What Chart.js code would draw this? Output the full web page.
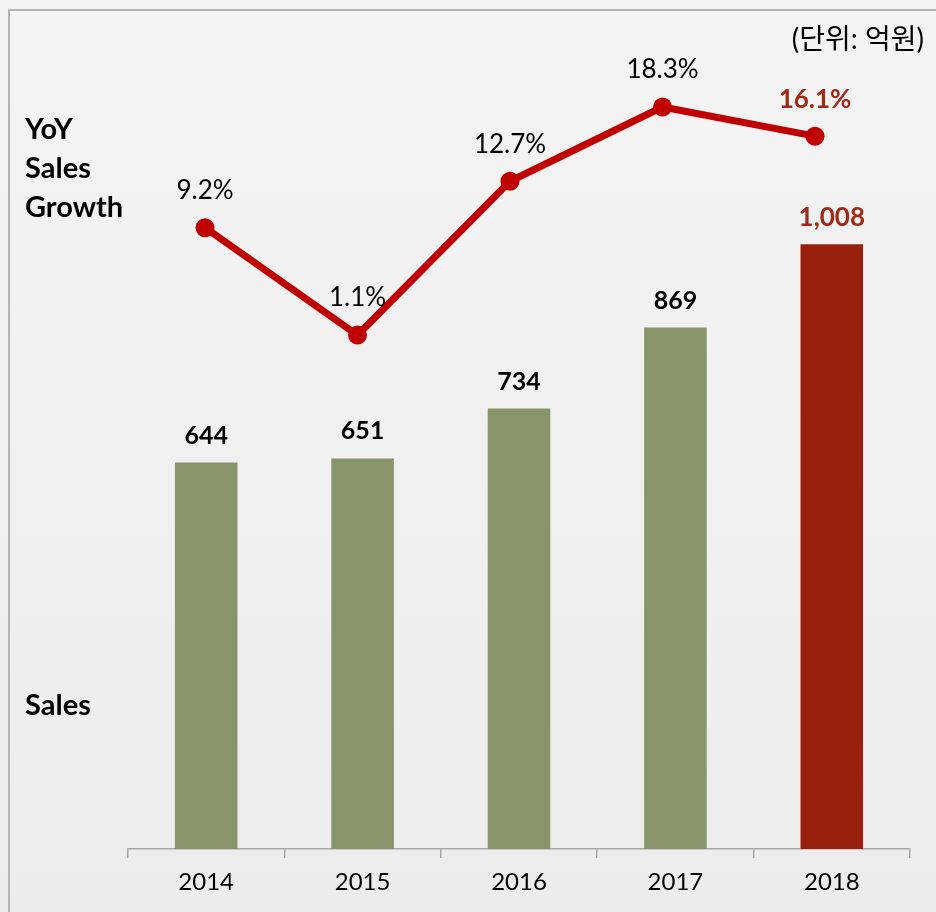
<!DOCTYPE html>
<html>
<head>
<meta charset="utf-8">
<script src="https://cdn.jsdelivr.net/npm/chart.js@4.4.1/dist/chart.umd.min.js"></script>
<style>
  html, body { margin: 0; padding: 0; background: #f2f2f2; }
  #wrap { position: relative; width: 936px; height: 912px; }
</style>
</head>
<body>
<div id="wrap">
  <canvas id="salesChart" width="936" height="912"></canvas>
</div>
<script>
// data
const years = ['2014', '2015', '2016', '2017', '2018'];
const sales = [644, 651, 734, 869, 1008];
const salesLabels = ['644', '651', '734', '869', '1,008'];
const growth = [9.2, 1.1, 12.7, 18.3, 16.1];
const growthLabels = ['9.2%', '1.1%', '12.7%', '18.3%', '16.1%'];

const FONT = "Lato, 'Noto Sans', 'Noto Sans CJK KR', sans-serif";
const olive = '#88946a';
const darkRed = '#98200e';
const lineRed = '#c00000';
const labelRed = '#a02a18';

// background + frame + side captions
const backdrop = {
  id: 'backdrop',
  beforeDraw(chart) {
    const ctx = chart.ctx;
    const w = chart.width, h = chart.height;
    ctx.save();
    const g = ctx.createLinearGradient(0, 0, 0, h);
    g.addColorStop(0, '#f4f4f4');
    g.addColorStop(1, '#ececec');
    ctx.fillStyle = g;
    ctx.fillRect(0, 0, w, h);
    ctx.strokeStyle = '#b4b4b4';
    ctx.lineWidth = 2;
    ctx.beginPath();
    ctx.moveTo(9, h);
    ctx.lineTo(9, 10);
    ctx.lineTo(w, 10);
    ctx.stroke();
    ctx.restore();
  },
  afterDraw(chart) {
    const ctx = chart.ctx;
    ctx.save();
    ctx.fillStyle = '#000';
    ctx.textBaseline = 'middle';
    ctx.textAlign = 'left';
    ctx.font = 'bold 29px ' + FONT;
    ctx.fillText('YoY', 25, 130);
    ctx.fillText('Sales', 25, 169);
    ctx.fillText('Growth', 25, 208);
    ctx.fillText('Sales', 25, 706);
    ctx.textAlign = 'right';
    ctx.font = '28px ' + FONT;
    ctx.fillText('(단위: 억원)', 924, 40);
    ctx.restore();
  }
};

// value labels above bars and points
const valueLabels = {
  id: 'valueLabels',
  afterDatasetsDraw(chart) {
    const ctx = chart.ctx;
    ctx.save();
    ctx.textAlign = 'center';
    ctx.textBaseline = 'middle';
    const bars = chart.getDatasetMeta(1).data;
    bars.forEach((bar, i) => {
      ctx.font = 'bold ' + (i === 4 ? 26 : 25) + 'px ' + FONT;
      ctx.fillStyle = i === 4 ? labelRed : '#000';
      ctx.fillText(salesLabels[i], bar.x, bar.y - 27);
    });
    const pts = chart.getDatasetMeta(0).data;
    pts.forEach((p, i) => {
      ctx.font = (i === 4 ? 'bold ' : '') + '26px ' + FONT;
      ctx.fillStyle = i === 4 ? labelRed : '#000';
      ctx.fillText(growthLabels[i], p.x, p.y - 37);
    });
    ctx.restore();
  }
};

new Chart(document.getElementById('salesChart').getContext('2d'), {
  data: {
    labels: years,
    datasets: [
      {
        type: 'line',
        label: 'YoY Sales Growth',
        // the growth line sits on its own, slightly narrower x spacing
        data: growth.map((v, i) => ({ x: i, y: v })),
        xAxisID: 'xLine',
        yAxisID: 'yGrowth',
        borderColor: lineRed,
        backgroundColor: lineRed,
        borderWidth: 7,
        pointRadius: 9.5,
        pointBackgroundColor: lineRed,
        pointBorderWidth: 0,
        tension: 0,
        clip: false,
        order: 0
      },
      {
        type: 'bar',
        label: 'Sales',
        data: sales,
        xAxisID: 'x',
        yAxisID: 'ySales',
        backgroundColor: [olive, olive, olive, olive, darkRed],
        barPercentage: 0.4,
        categoryPercentage: 1,
        grouped: false,
        order: 1
      }
    ]
  },
  options: {
    responsive: false,
    animation: false,
    layout: { autoPadding: false, padding: { left: 128, right: 26, top: 0, bottom: 0 } },
    plugins: {
      legend: { display: false },
      tooltip: { enabled: false }
    },
    scales: {
      x: {
        offset: true,
        grid: {
          offset: true,
          drawOnChartArea: false,
          drawTicks: true,
          tickLength: 9,
          color: '#a6a6a6',
          lineWidth: 1.5
        },
        border: { display: true, color: '#a6a6a6', width: 1.5 },
        ticks: {
          color: '#000',
          font: { family: FONT, size: 24 },
          padding: 10
        },
        afterFit(scale) { scale.height = 63; }
      },
      xLine: {
        type: 'linear',
        display: false,
        min: -0.505,
        max: 4.623
      },
      ySales: {
        display: false,
        min: 0,
        max: 1415
      },
      yGrowth: {
        display: false,
        min: -37.66,
        max: 26.37
      }
    }
  },
  plugins: [backdrop, valueLabels]
});
</script>
</body>
</html>
